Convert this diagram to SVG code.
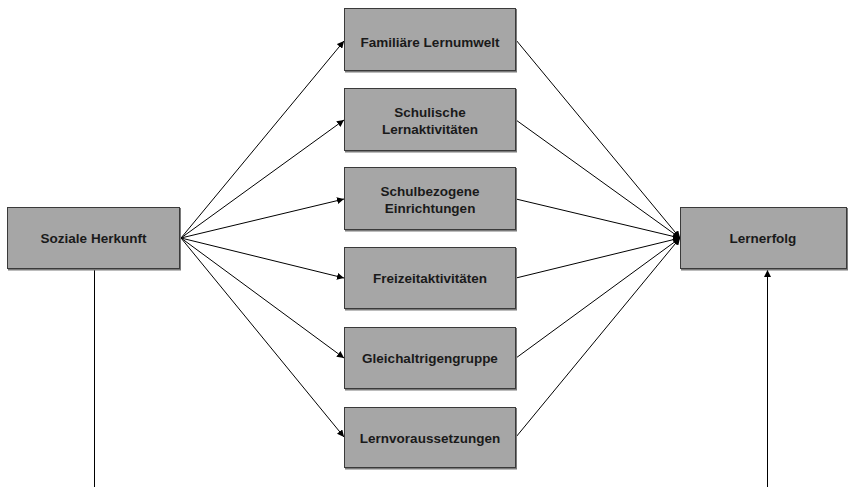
<svg xmlns="http://www.w3.org/2000/svg" width="849" height="487" viewBox="0 0 849 487">
<style>
.shadow{fill:#7a7a7a}
.box{fill:#a6a6a6;stroke:#3a3a3a;stroke-width:1}
.lbl{font-family:"Liberation Sans",Arial,sans-serif;font-weight:bold;font-size:13.5px;fill:#1a1a1a;text-anchor:middle}
.c{stroke:#000;stroke-width:1;fill:none}
</style>
<defs>
<marker id="ah" viewBox="0 0 10 10" refX="10" refY="5" markerWidth="7" markerHeight="7" markerUnits="userSpaceOnUse" orient="auto">
<path d="M0,0 L10,5 L0,10 z" fill="#000"/>
</marker>
</defs>
<g id="connectors">
<line class="c" x1="181" y1="238" x2="344" y2="41" marker-end="url(#ah)"/>
<line class="c" x1="181" y1="238" x2="344" y2="120" marker-end="url(#ah)"/>
<line class="c" x1="181" y1="238" x2="344" y2="199" marker-end="url(#ah)"/>
<line class="c" x1="181" y1="238" x2="344" y2="278" marker-end="url(#ah)"/>
<line class="c" x1="181" y1="238" x2="344" y2="358" marker-end="url(#ah)"/>
<line class="c" x1="181" y1="238" x2="344" y2="437" marker-end="url(#ah)"/>
<line class="c" x1="516" y1="40" x2="680" y2="238" marker-end="url(#ah)"/>
<line class="c" x1="516" y1="120" x2="680" y2="238" marker-end="url(#ah)"/>
<line class="c" x1="516" y1="199" x2="680" y2="238" marker-end="url(#ah)"/>
<line class="c" x1="516" y1="278" x2="680" y2="238" marker-end="url(#ah)"/>
<line class="c" x1="516" y1="358" x2="680" y2="238" marker-end="url(#ah)"/>
<line class="c" x1="516" y1="437" x2="680" y2="238" marker-end="url(#ah)"/>
<line class="c" x1="94.5" y1="269" x2="94.5" y2="487"/>
<line class="c" x1="767.5" y1="487" x2="767.5" y2="270" marker-end="url(#ah)"/>
</g>
<g id="soziale-herkunft">
<rect class="shadow" x="8" y="208" width="173" height="62.5"/>
<rect class="box" x="7.5" y="207.5" width="172" height="61"/>
<text class="lbl" x="93.5" y="243">Soziale Herkunft</text>
</g>
<g id="familiaere-lernumwelt">
<rect class="shadow" x="345" y="9" width="172" height="63.5"/>
<rect class="box" x="344.5" y="8.5" width="171" height="62"/>
<text class="lbl" x="430" y="46.5">Familiäre Lernumwelt</text>
</g>
<g id="schulische-lernaktivitaeten">
<rect class="shadow" x="345" y="89" width="172" height="63.5"/>
<rect class="box" x="344.5" y="88.5" width="171" height="62"/>
<text class="lbl" x="430" y="116.5">Schulische</text>
<text class="lbl" x="430" y="133.5">Lernaktivitäten</text>
</g>
<g id="schulbezogene-einrichtungen">
<rect class="shadow" x="345" y="168" width="172" height="63.5"/>
<rect class="box" x="344.5" y="167.5" width="171" height="62"/>
<text class="lbl" x="430" y="195.5">Schulbezogene</text>
<text class="lbl" x="430" y="212.5">Einrichtungen</text>
</g>
<g id="freizeitaktivitaeten">
<rect class="shadow" x="345" y="248" width="172" height="62.5"/>
<rect class="box" x="344.5" y="247.5" width="171" height="61"/>
<text class="lbl" x="430" y="283">Freizeitaktivitäten</text>
</g>
<g id="gleichaltrigengruppe">
<rect class="shadow" x="345" y="328" width="172" height="62.5"/>
<rect class="box" x="344.5" y="327.5" width="171" height="61"/>
<text class="lbl" x="430" y="363">Gleichaltrigengruppe</text>
</g>
<g id="lernvoraussetzungen">
<rect class="shadow" x="345" y="408" width="172" height="61.5"/>
<rect class="box" x="344.5" y="407.5" width="171" height="60"/>
<text class="lbl" x="430" y="442.5">Lernvoraussetzungen</text>
</g>
<g id="lernerfolg">
<rect class="shadow" x="681" y="208" width="167" height="62.5"/>
<rect class="box" x="680.5" y="207.5" width="166" height="61"/>
<text class="lbl" x="763" y="243">Lernerfolg</text>
</g>
</svg>
